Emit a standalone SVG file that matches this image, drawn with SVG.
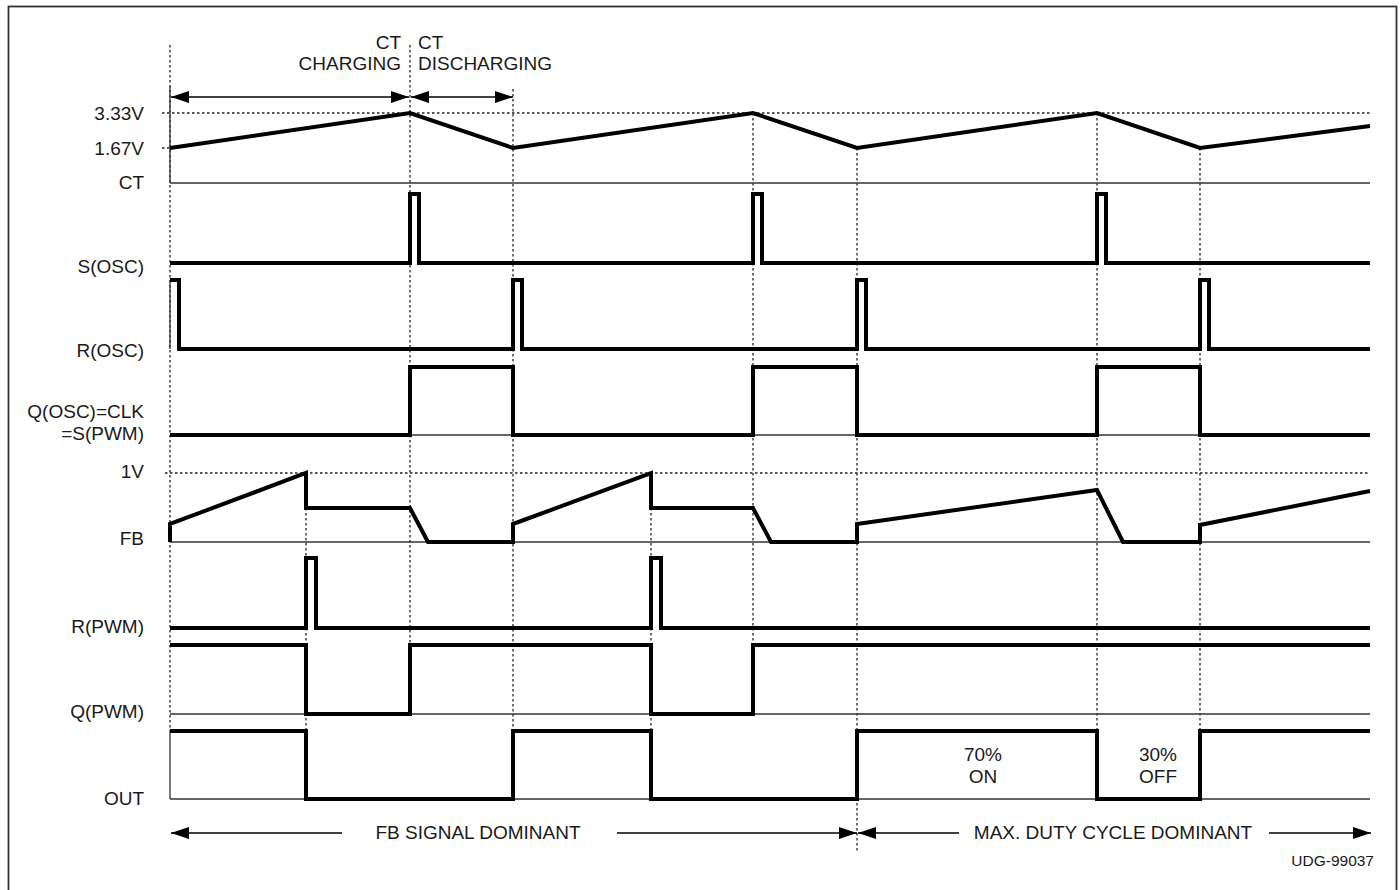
<svg xmlns="http://www.w3.org/2000/svg" width="1400" height="890" viewBox="0 0 1400 890">
<defs>
<marker id="ah" markerUnits="userSpaceOnUse" markerWidth="18" markerHeight="12" refX="18" refY="6" orient="auto-start-reverse" viewBox="0 0 18 12">
<path d="M0,0 L18,6 L0,12 z" fill="#000"/>
</marker>
<style>
.wave{fill:none;stroke:#000;stroke-width:4;stroke-linejoin:miter;stroke-linecap:butt}
.base{fill:none;stroke:#333;stroke-width:1.3}
.dot{fill:none;stroke:#222;stroke-width:1.3;stroke-dasharray:2.5 2.5}
.arr{fill:none;stroke:#000;stroke-width:1.5}
text{font-family:"Liberation Sans",Arial,Helvetica,sans-serif;font-size:19px;fill:#1a1a1a}
.lbl{text-anchor:end}
.mid{text-anchor:middle}
.small{font-size:15.5px}
</style>
</defs>
<rect x="8.5" y="6.5" width="1388" height="895" fill="#fff" stroke="#333" stroke-width="1.8"/>

<g id="gridlines">
<path class="dot" d="M162,113 H1370 M162,148 H170 M165,473 H1370"/>
<path class="dot" d="M170,45 V731 M410,45 V645 M513,89 V731 M306,473 V731 M651,473 V731 M753,113 V645 M857,148 V852 M1097,113 V731 M1200,148 V731"/>
<path class="base" d="M170,86 V183 M170,280 V349 M170,731 V799"/>
</g>

<g id="labels">
<text class="lbl" x="144" y="120">3.33V</text>
<text class="lbl" x="144" y="155">1.67V</text>
<text class="lbl" x="144" y="189">CT</text>
<text class="lbl" x="144" y="273">S(OSC)</text>
<text class="lbl" x="144" y="357">R(OSC)</text>
<text class="lbl" x="144" y="418">Q(OSC)=CLK</text>
<text class="lbl" x="144" y="440">=S(PWM)</text>
<text class="lbl" x="144" y="478">1V</text>
<text class="lbl" x="144" y="545">FB</text>
<text class="lbl" x="144" y="633">R(PWM)</text>
<text class="lbl" x="144" y="718">Q(PWM)</text>
<text class="lbl" x="144" y="805">OUT</text>
</g>

<g id="ct-annotation">
<text class="lbl" x="401" y="49">CT</text>
<text class="lbl" x="401" y="70">CHARGING</text>
<text x="418" y="49">CT</text>
<text x="418" y="70">DISCHARGING</text>
<path class="arr" d="M171,97 H409" marker-start="url(#ah)" marker-end="url(#ah)"/>
<path class="arr" d="M411,97 H513" marker-start="url(#ah)" marker-end="url(#ah)"/>
</g>

<g id="sig-ct">
<path class="base" d="M170,183 H1370"/>
<path class="wave" d="M170,148 L410,113 L513,148 L753,113 L857,148 L1097,113 L1200,148 L1370,126"/>
</g>

<g id="sig-sosc">
<path class="wave" d="M170,263 H410 V194 H419 V263 H753 V194 H762 V263 H1097 V194 H1106 V263 H1370"/>
</g>

<g id="sig-rosc">
<path class="wave" d="M170,280 H179 V349 H513 V280 H522 V349 H857 V280 H866 V349 H1200 V280 H1209 V349 H1370"/>
</g>

<g id="sig-qosc">
<path class="base" d="M170,435 H1370"/>
<path class="wave" d="M170,435 H410 V367 H513 V435 H753 V367 H857 V435 H1097 V367 H1200 V435 H1370"/>
</g>

<g id="sig-fb">
<path class="base" d="M170,542 H1370"/>
<path class="wave" d="M170,542 V524 L306,473 V508 H410 L428,542 H513 V524 L651,473 V508 H753 L771,542 H857 V524 L1097,490 L1123,542 H1200 V525 L1370,491"/>
</g>

<g id="sig-rpwm">
<path class="wave" d="M170,628 H306 V558 H316 V628 H651 V558 H661 V628 H1370"/>
</g>

<g id="sig-qpwm">
<path class="base" d="M170,714 H1370"/>
<path class="wave" d="M170,645 H306 V714 H410 V645 H651 V714 H753 V645 H1370"/>
</g>

<g id="sig-out">
<path class="base" d="M170,799 H1370"/>
<path class="wave" d="M170,731 H306 V799 H513 V731 H651 V799 H857 V731 H1097 V799 H1200 V731 H1370"/>
<text class="mid" x="983" y="761">70%</text>
<text class="mid" x="983" y="783">ON</text>
<text class="mid" x="1158" y="761">30%</text>
<text class="mid" x="1158" y="783">OFF</text>
</g>

<g id="connectors">
<path class="arr" d="M342,833 H171" marker-end="url(#ah)"/>
<path class="arr" d="M617,833 H857" marker-end="url(#ah)"/>
<path class="arr" d="M959,833 H858" marker-end="url(#ah)"/>
<path class="arr" d="M1269,833 H1371" marker-end="url(#ah)"/>
</g>

<g id="region-labels">
<text class="mid" x="478" y="839">FB SIGNAL DOMINANT</text>
<text class="mid" x="1113" y="839">MAX. DUTY CYCLE DOMINANT</text>
<text class="small" x="1374" y="866" text-anchor="end">UDG-99037</text>
</g>
</svg>
